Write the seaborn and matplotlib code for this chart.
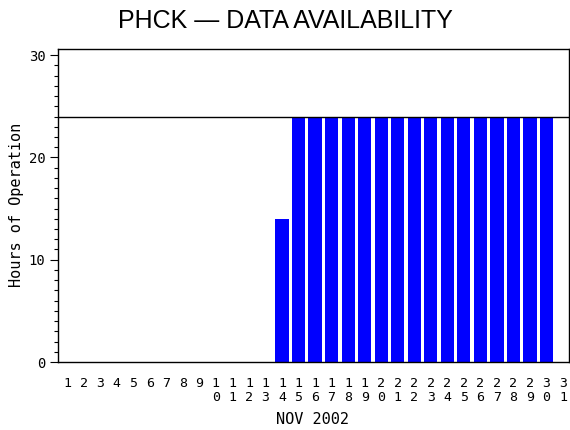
import matplotlib
matplotlib.use("Agg")
import matplotlib.pyplot as plt
import seaborn as sns
import pandas as pd

# day of month and hours the station was running
days = list(range(1, 32))
hours = [0, 0, 0, 0, 0, 0, 0, 0, 0, 0, 0, 0, 0, 14,
         24, 24, 24, 24, 24, 24, 24, 24, 24, 24, 24, 24, 24, 24, 24, 24,
         0]
day_labels = ["\n".join(str(d)) for d in days]
target_hours = 24

df = pd.DataFrame({"day": days, "hours": hours})

sns.set_style("white")
plt.rcParams["font.family"] = ["DejaVu Sans Mono"]
plt.rcParams["text.color"] = "black"
plt.rcParams["xtick.color"] = "black"
plt.rcParams["ytick.color"] = "black"

fig = plt.figure(figsize=(5.7, 4.3), dpi=100)
ax = fig.add_axes([58 / 570, 1 - 362 / 430, (569 - 58) / 570, (362 - 49) / 430])

sns.barplot(data=df, x="day", y="hours", native_scale=True, color="#0000ff",
            saturation=1, width=0.8, linewidth=0, ax=ax)

ax.axhline(target_hours, color="black", linewidth=1)

ax.set_xlim(0.45, 31.36)
ax.set_ylim(0, 30.6)
ax.set_xticks(days)
ax.set_xticklabels(day_labels, fontsize=9.5, linespacing=1.05)
ax.set_yticks([0, 10, 20, 30])
ax.set_yticklabels(["0", "10", "20", "30"], fontsize=10)
ax.set_yticks(range(0, 31), minor=True)
ax.tick_params(axis="x", length=0, pad=11)
ax.tick_params(axis="y", which="major", direction="out", length=6, width=0.8, left=True, pad=3)
ax.tick_params(axis="y", which="minor", direction="out", length=3, width=0.8, left=True)
ax.set_xlabel("")
ax.set_ylabel("")

for s in ax.spines.values():
    s.set_visible(True)
    s.set_color("black")
    s.set_linewidth(1)

fig.text(313 / 570, 1 - 419 / 430, "NOV 2002", ha="center", va="center", fontsize=11)
fig.text(17 / 570, 1 - 205 / 430, "Hours of Operation", ha="center", va="center",
         rotation=90, fontsize=11)
fig.text(285 / 570, 1 - 21 / 430, "PHCK \u2014 DATA AVAILABILITY", ha="center", va="center",
         fontsize=18, family="Liberation Sans")

fig.savefig("out.png", dpi=100)
